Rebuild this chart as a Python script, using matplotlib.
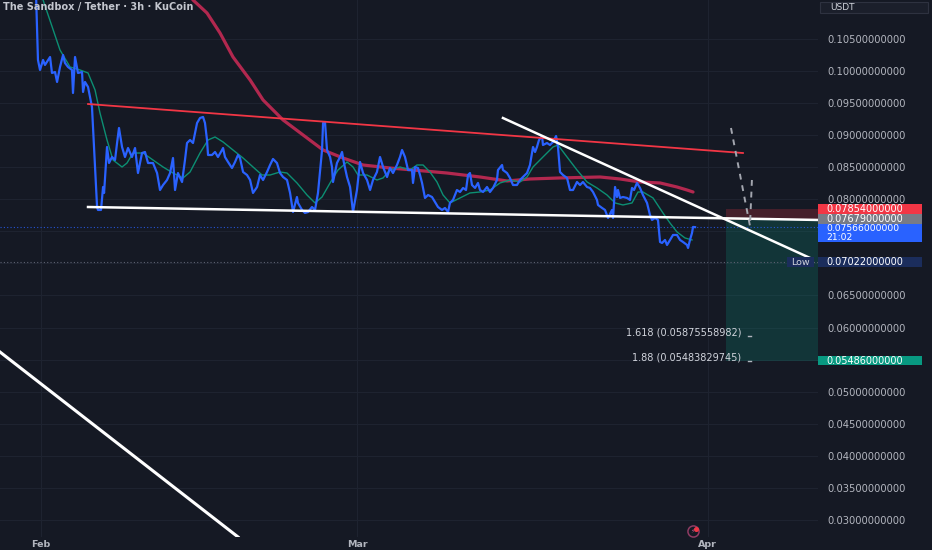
import matplotlib
matplotlib.use("Agg")
import matplotlib.pyplot as plt
import matplotlib.transforms as mtransforms
from matplotlib.patches import Rectangle

# x = days since 1 Feb, y = price in USDT (3h closes)
close_days = [
    -0.44, -0.27, -0.09, 0.18, 0.35, 0.80, 0.97, 1.24, 1.42, 1.68,
    1.95, 2.12, 2.39, 2.74, 2.83, 3.01, 3.27, 3.63, 3.72, 3.89,
    4.16, 4.51, 4.60, 4.96, 5.04, 5.31, 5.49, 5.58, 5.84, 6.02,
    6.28, 6.55, 6.73, 6.90, 7.17, 7.43, 7.70, 8.05, 8.32, 8.58,
    8.94, 9.20, 9.47, 9.91, 10.27, 10.53, 10.80, 11.15, 11.42, 11.68,
    11.86, 12.12, 12.48, 12.74, 12.92, 13.19, 13.45, 13.81, 14.07, 14.34,
    14.51, 14.69, 14.78, 15.13, 15.40, 15.66, 16.02, 16.11, 16.28, 16.55,
    16.90, 17.17, 17.43, 17.61, 17.88, 18.23, 18.50, 18.76, 19.12, 19.38,
    19.65, 20.00, 20.27, 20.53, 20.88, 21.15, 21.42, 21.77, 22.04, 22.30,
    22.65, 22.74, 23.10, 23.36, 23.63, 23.98, 24.25, 24.51, 24.87, 24.96,
    25.13, 25.31, 25.58, 25.75, 25.84, 26.19, 26.46, 26.64, 26.81, 27.08,
    27.35, 27.61, 27.96, 28.23, 28.50, 28.85, 29.12, 29.38, 29.73, 30.00,
    30.27, 30.62, 30.88, 31.15, 31.50, 31.77, 31.95, 32.21, 32.48, 32.83,
    32.92, 33.10, 33.36, 33.54, 33.72, 33.98, 34.25, 34.60, 34.87, 35.13,
    35.49, 35.75, 36.02, 36.19, 36.46, 36.81, 37.08, 37.35, 37.61, 37.79,
    37.96, 38.14, 38.41, 38.67, 38.85, 39.12, 39.47, 39.73, 40.00, 40.35,
    40.44, 40.80, 40.88, 41.24, 41.50, 41.77, 42.12, 42.39, 42.65, 43.01,
    43.27, 43.45, 43.54, 43.72, 43.89, 44.07, 44.34, 44.42, 44.78, 45.04,
    45.31, 45.58, 45.75, 45.93, 46.19, 46.55, 46.81, 47.08, 47.43, 47.70,
    47.96, 48.32, 48.58, 48.85, 49.20, 49.29, 49.65, 49.91, 50.18, 50.53,
    50.62, 50.80, 50.97, 51.06, 51.24, 51.50, 51.86, 52.12, 52.30, 52.48,
    52.74, 53.01, 53.27, 53.63, 53.89, 54.07, 54.34, 54.60, 54.78, 54.96,
    55.22, 55.40, 55.66, 55.93, 56.28, 56.55, 56.81, 57.17, 57.26, 57.43,
    57.61, 57.70, 57.88,
]
close_vals = [
    0.11190, 0.10173, 0.10017, 0.10173, 0.10095, 0.10219, 0.09970, 0.09985, 0.09830, 0.10063,
    0.10251, 0.10126, 0.10063, 0.10017, 0.09658, 0.10219, 0.09970, 0.09985, 0.09674, 0.09830,
    0.09752, 0.09440, 0.09128, 0.07880, 0.07834, 0.07834, 0.08192, 0.08099, 0.08816, 0.08566,
    0.08660, 0.08613, 0.08878, 0.09112, 0.08816, 0.08660, 0.08800, 0.08660, 0.08800, 0.08410,
    0.08722, 0.08738, 0.08566, 0.08566, 0.08410, 0.08145, 0.08223, 0.08301, 0.08410, 0.08644,
    0.08145, 0.08410, 0.08270, 0.08613, 0.08878, 0.08925, 0.08878, 0.09190, 0.09268, 0.09284,
    0.09190, 0.08925, 0.08691, 0.08691, 0.08738, 0.08660, 0.08769, 0.08800, 0.08660, 0.08582,
    0.08488, 0.08582, 0.08691, 0.08644, 0.08426, 0.08379, 0.08301, 0.08099, 0.08192, 0.08379,
    0.08301, 0.08426, 0.08535, 0.08629, 0.08566, 0.08410, 0.08348, 0.08301, 0.08099, 0.07802,
    0.08036, 0.07943, 0.07834, 0.07787, 0.07802, 0.07880, 0.07834, 0.08099, 0.08769, 0.09190,
    0.09206, 0.08769, 0.08660, 0.08504, 0.08270, 0.08566, 0.08660, 0.08738, 0.08566, 0.08348,
    0.08192, 0.07802, 0.08145, 0.08582, 0.08410, 0.08301, 0.08145, 0.08301, 0.08426, 0.08660,
    0.08504, 0.08348, 0.08488, 0.08410, 0.08535, 0.08660, 0.08769, 0.08660, 0.08457, 0.08457,
    0.08255, 0.08504, 0.08488, 0.08379, 0.08255, 0.08021, 0.08067, 0.08036, 0.07958, 0.07880,
    0.07834, 0.07865, 0.07802, 0.07943, 0.07990, 0.08145, 0.08114, 0.08177, 0.08145, 0.08379,
    0.08410, 0.08223, 0.08177, 0.08255, 0.08145, 0.08114, 0.08192, 0.08114, 0.08177, 0.08301,
    0.08457, 0.08535, 0.08457, 0.08410, 0.08333, 0.08223, 0.08223, 0.08301, 0.08348, 0.08410,
    0.08535, 0.08722, 0.08816, 0.08738, 0.08816, 0.08925, 0.08987, 0.08847, 0.08878, 0.08847,
    0.08894, 0.08987, 0.08816, 0.08426, 0.08379, 0.08333, 0.08145, 0.08145, 0.08270, 0.08223,
    0.08270, 0.08192, 0.08177, 0.08114, 0.07990, 0.07912, 0.07865, 0.07834, 0.07709, 0.07834,
    0.07709, 0.08192, 0.08036, 0.08145, 0.08021, 0.08036, 0.08021, 0.07990, 0.08177, 0.08145,
    0.08255, 0.08177, 0.08067, 0.07943, 0.07756, 0.07678, 0.07709, 0.07678, 0.07335, 0.07319,
    0.07366, 0.07288, 0.07366, 0.07444, 0.07444, 0.07366, 0.07335, 0.07288, 0.07241, 0.07366,
    0.07475, 0.07569, 0.07566,
]

# fast moving average (green)
fast_days = [
    0.00, 0.18, 1.68, 2.57, 3.45, 4.16, 4.78, 5.22, 5.84, 6.37,
    7.17, 7.61, 8.14, 9.03, 9.91, 10.80, 11.68, 12.57, 13.19, 14.07,
    14.78, 15.40, 16.11, 16.99, 17.88, 18.76, 19.56, 20.27, 21.15, 21.77,
    22.65, 23.54, 24.25, 24.87, 25.58, 26.28, 27.08, 27.61, 28.05, 28.85,
    29.73, 30.27, 30.88, 31.77, 32.65, 33.27, 33.81, 34.42, 35.04, 35.58,
    36.19, 37.08, 37.96, 38.85, 39.73, 40.62, 41.50, 42.39, 43.01, 43.54,
    44.42, 45.31, 45.75, 46.55, 47.43, 48.32, 49.20, 50.09, 50.80, 51.50,
    52.30, 52.83, 53.27, 54.16, 55.04, 55.66, 56.28, 56.99, 57.61,
]
fast_vals = [
    0.11233, 0.11108, 0.10328, 0.10063, 0.10017, 0.09970, 0.09705, 0.09346, 0.08925, 0.08613,
    0.08504, 0.08566, 0.08722, 0.08722, 0.08613, 0.08504, 0.08410, 0.08333, 0.08426, 0.08722,
    0.08925, 0.08972, 0.08894, 0.08769, 0.08644, 0.08504, 0.08379, 0.08379, 0.08426, 0.08410,
    0.08255, 0.08067, 0.07943, 0.08036, 0.08255, 0.08457, 0.08582, 0.08504, 0.08379, 0.08379,
    0.08301, 0.08333, 0.08457, 0.08504, 0.08457, 0.08535, 0.08535, 0.08426, 0.08270, 0.08067,
    0.07943, 0.08021, 0.08099, 0.08114, 0.08145, 0.08255, 0.08301, 0.08270, 0.08348, 0.08504,
    0.08660, 0.08816, 0.08847, 0.08660, 0.08457, 0.08270, 0.08177, 0.08067, 0.07943, 0.07912,
    0.07943, 0.08114, 0.08114, 0.08021, 0.07787, 0.07631, 0.07491, 0.07397, 0.07366,
]

# slow moving average (crimson)
slow_days = [
    13.19, 13.45, 14.69, 15.84, 16.99, 18.50, 19.65, 21.42, 23.19, 24.96,
    26.73, 28.50, 30.88, 32.92, 35.93, 38.85, 41.24, 43.27, 45.93, 49.47,
    51.24, 53.01, 54.78, 56.28, 57.17, 57.70,
]
slow_vals = [
    0.11190, 0.11108, 0.10905, 0.10594, 0.10219, 0.09861, 0.09549, 0.09237, 0.09003, 0.08769,
    0.08644, 0.08535, 0.08488, 0.08457, 0.08410, 0.08348, 0.08286, 0.08317, 0.08333, 0.08348,
    0.08317, 0.08270, 0.08255, 0.08192, 0.08145, 0.08114,
]

# drawn trend lines (day, price) end points
resist_days, resist_vals = [4.16, 62.12], [0.09486, 0.08722]
support_days, support_vals = [4.16, 68.76], [0.07880, 0.07678]
down_days, down_vals = [40.88, 68.23], [0.09268, 0.07071]
big_days, big_vals = [-3.63, 17.43], [0.05619, 0.02735]
proj_days, proj_vals = [61.06, 62.74, 62.92], [0.09112, 0.07584, 0.08333]

# short position tool
entry = 0.07679
stop = 0.07854
target = 0.05486
box_start = 60.6

last_price = 0.07566
last_timer = "21:02"
low_price = 0.07022

fib_ratio = ["1.618", "1.88"]
fib_price = [0.05875558982, 0.05483829745]
fib_day = 62.7

month_pos = [0, 28, 59]
month_names = ["Feb", "Mar", "Apr"]
price_ticks = [0.030, 0.035, 0.040, 0.045, 0.050, 0.055, 0.060, 0.065,
               0.070, 0.075, 0.080, 0.085, 0.090, 0.095, 0.100, 0.105]
covered_ticks = [0.055, 0.070, 0.075]

title = "The Sandbox / Tether \u00b7 3h \u00b7 KuCoin"

BG = "#151924"
GRID = "#1e2330"
TXT = "#b2b5be"

W, H = 932, 550
fig = plt.figure(figsize=(W / 100, H / 100), dpi=100, facecolor=BG)
ax = fig.add_axes([0, 13 / H, 818 / W, 537 / H])
ax.set_facecolor(BG)
xmin, xmax = -3.63, 68.76
ymin, ymax = 0.02734, 0.11108
ax.set_xlim(xmin, xmax)
ax.set_ylim(ymin, ymax)
px = (ymax - ymin) / 537.0   # price per pixel, for tag sizes

for s in ax.spines.values():
    s.set_visible(False)

ax.yaxis.tick_right()
ax.set_yticks(price_ticks)
ax.set_yticklabels(["" if t in covered_ticks else "%.11f" % t for t in price_ticks])
ax.set_xticks(month_pos)
ax.set_xticklabels(month_names, fontweight="bold")
ax.tick_params(axis="y", length=0, pad=7, labelsize=7.2, labelcolor=TXT)
ax.tick_params(axis="x", length=0, pad=2, labelsize=6.8, labelcolor=TXT)
ax.grid(color=GRID, lw=0.8)
ax.set_axisbelow(True)

# position boxes
ax.add_patch(Rectangle((box_start, entry), xmax - box_start, stop - entry,
                       fc="#f23645", alpha=0.22, ec="none", zorder=1))
ax.add_patch(Rectangle((box_start, target), xmax - box_start, entry - target,
                       fc="#089981", alpha=0.22, ec="none", zorder=1))

# dotted price lines
ax.axhline(last_price, color="#2962ff", lw=0.8, ls=(0, (1, 2)), alpha=0.8, zorder=2)
ax.axhline(low_price, color="#5d6272", lw=0.8, ls=(0, (1, 2)), zorder=2)

# series
ax.plot(slow_days, slow_vals, color="#b2284f", lw=2.3, zorder=3, solid_capstyle="round")
ax.plot(fast_days, fast_vals, color="#0c8f73", lw=1.0, zorder=4)
ax.plot(close_days, close_vals, color="#2a62ff", lw=1.6, zorder=5, solid_joinstyle="round")

# trend lines
ax.plot(resist_days, resist_vals, color="#f23645", lw=1.3, zorder=6)
ax.plot(support_days, support_vals, color="white", lw=1.8, zorder=6)
ax.plot(down_days, down_vals, color="white", lw=1.8, zorder=6)
ax.plot(big_days, big_vals, color="white", lw=2.2, zorder=6)
ax.plot(proj_days, proj_vals, color="#a3a6af", lw=1.4, ls=(0, (3, 3)), zorder=6)

# fib extension labels
for r, p in zip(fib_ratio, fib_price):
    ax.plot([fib_day - 0.15, fib_day + 0.15], [p, p], color="#b2b5be", lw=1, zorder=6)
    ax.text(fib_day - 0.75, p + 3 * px, "%s (%.11f)" % (r, p), ha="right", va="center",
            fontsize=7, color="#d1d4dc", zorder=7)

# lightning icon near Apr
ax.plot(57.7, ymin + 6 * px, "o", ms=8, mfc=BG, mec="#8f3b63", mew=1.1, zorder=7, clip_on=False)
ax.plot(57.95, ymin + 8.5 * px, "o", ms=2.6, color="#f23645", zorder=8, clip_on=False)
ax.text(57.7, ymin + 6 * px, "\u26a1", ha="center", va="center", fontsize=4.5,
        color="#b05a84", zorder=8)

# price tags on the right scale
tr = mtransforms.blended_transform_factory(ax.transAxes, ax.transData)
tag_w = 104 / 818
tx = 1 + 8 / 818


def tag(y0, y1, color, lines, tcolor="white", size=7.0):
    ax.add_patch(Rectangle((1.0, y0), tag_w, y1 - y0, transform=tr, fc=color,
                           ec="none", clip_on=False, zorder=9))
    n = len(lines)
    for i, t in enumerate(lines):
        yy = y1 - (y1 - y0) * (i + 0.5) / n
        ax.text(tx, yy, t, transform=tr, ha="left", va="center", fontsize=size,
                color=tcolor, clip_on=False, zorder=10)


tag(stop - 5 * px, stop + 5 * px, "#f23645", ["%.11f" % stop])
tag(entry - 4 * px, entry + 5.5 * px, "#787b86", ["%.11f" % entry])
tag(entry - 22 * px, entry - 4 * px, "#2962ff", ["%.11f" % last_price, last_timer], size=6.6)
tag(low_price - 5 * px, low_price + 5 * px, "#1b2d5c", ["%.11f" % low_price])
tag(target - 4.5 * px, target + 4.5 * px, "#089981", ["%.11f" % target])

# "Low" label box
ax.add_patch(Rectangle((787 / 818, low_price - 5 * px), 27 / 818, 10 * px, transform=tr,
                       fc="#1b2d5c", ec="none", clip_on=False, zorder=9))
ax.text(800 / 818, low_price, "Low", transform=tr, ha="center", va="center",
        fontsize=6.8, color="#d1d4dc", zorder=10)

# currency box top right
fig.add_artist(Rectangle((820 / W, 1 - 13 / H), 108 / W, 11 / H, transform=fig.transFigure,
                         fc="#1b1f2b", ec="#2e3240", lw=0.8))
fig.text(830 / W, 1 - 7.5 / H, "USDT", fontsize=6.5, color="#d1d4dc", va="center")

fig.text(3 / W, 1 - 7 / H, title, fontsize=7, fontweight="bold", color="#c3c6ce", va="center")

fig.savefig("out.png", dpi=100, facecolor=BG)
